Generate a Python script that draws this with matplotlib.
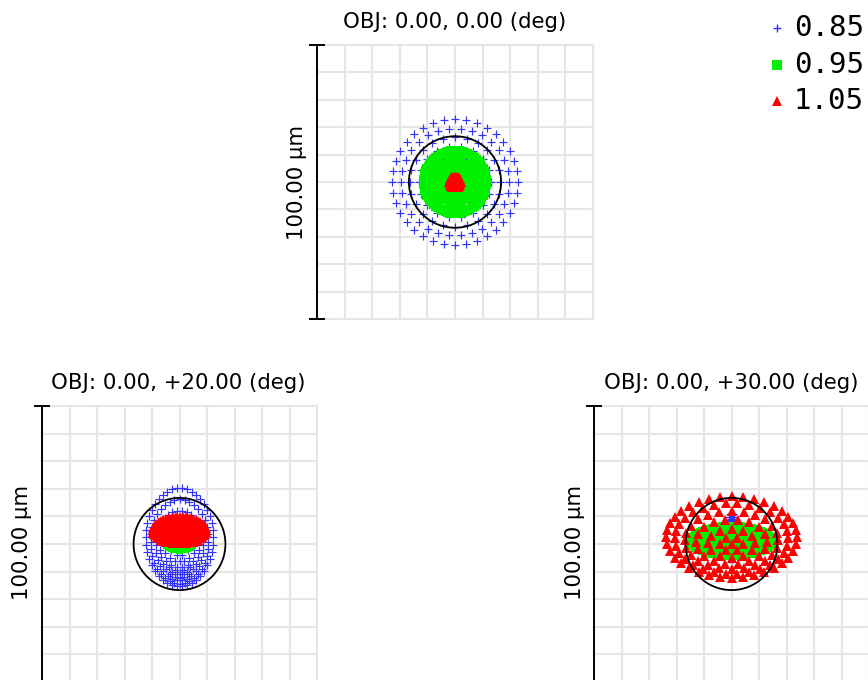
import numpy as np
import matplotlib
matplotlib.use("Agg")
import matplotlib.pyplot as plt
from matplotlib.patches import Circle

# ---------------------------------------------------------------- data (µm)
FIELD_TITLES = ["OBJ: 0.00, 0.00 (deg)",
                "OBJ: 0.00, +20.00 (deg)",
                "OBJ: 0.00, +30.00 (deg)"]
WAVELENGTHS = ["0.85", "0.95", "1.05"]
SCALE_LABEL = "100.00 µm"
BOX_HALF_UM = 50.0
GRID_STEP_UM = 10.0
AIRY_RADIUS_UM = 16.7

# Ray rings of the hexapolar pupil sampling: ring semi-axis in x, in y,
# and the ring centre height, all at the image plane.
F0_085_AX = [6.5, 9.8, 13.1, 16.4, 19.6, 22.9]
F0_085_AY = [6.5, 9.8, 13.1, 16.4, 19.6, 22.9]
F0_085_CY = [0.0, 0.0, 0.0, 0.0, 0.0, 0.0]

F0_095_AX = [0.95, 1.9, 2.85, 3.8, 4.75, 5.7, 6.65, 7.6, 8.55, 9.9, 10.8, 11.7, 12.5]
F0_095_AY = [0.95, 1.9, 2.85, 3.8, 4.75, 5.7, 6.65, 7.6, 8.55, 9.9, 10.8, 11.7, 12.5]
F0_095_CY = [0.0] * 13

F0_105_AX = [0.5, 1.0, 1.5, 2.0]
F0_105_AY = [0.5, 1.0, 1.5, 2.0]
F0_105_CY = [0.0, 0.0, 0.0, 0.0]

F20_085_AX = [1.7, 3.5, 5.2, 7.0, 8.7, 10.5, 12.2]
F20_085_AY = [2.5, 5.1, 7.6, 10.2, 12.7, 15.3, 17.8]
F20_085_CY = [-6.3, -4.9, -3.4, -2.0, -0.5, 0.9, 2.4]

F20_095_AX = [1.0, 2.0, 3.0, 4.0, 5.0, 6.0, 7.0]
F20_095_AY = [0.75, 1.5, 2.3, 3.0, 3.8, 4.5, 5.3]
F20_095_CY = [2.5, 2.5, 2.5, 2.5, 2.5, 2.5, 2.5]

F20_105_AX = [1.2, 2.4, 3.6, 4.8, 6.0, 7.2, 8.4, 9.6]
F20_105_AY = [0.6, 1.2, 1.8, 2.4, 3.0, 3.6, 4.2, 4.8]
F20_105_CY = [5.0, 5.0, 5.0, 5.0, 5.0, 5.0, 5.0, 5.0]

F30_085_AX = [0.4, 0.8, 1.2, 1.5]
F30_085_AY = [2.1, 4.2, 6.3, 8.3]
F30_085_CY = [2.7, 2.7, 2.7, 2.7]

F30_095_AX = [1.33, 2.67, 4.0, 5.33, 6.67, 8.0, 9.33, 10.67, 12.0, 13.33, 14.67, 16.0]
F30_095_AY = [0.52, 1.03, 1.55, 2.07, 2.58, 3.1, 3.62, 4.13, 4.65, 5.17, 5.68, 6.2]
F30_095_CY = [1.1] * 12

F30_105_AX = [4.2, 8.5, 13.0, 17.0, 20.7, 23.8]
F30_105_AY = [2.6, 5.3, 8.1, 10.6, 12.8, 14.8]
F30_105_CY = [0.0, 0.3, 0.8, 1.4, 2.0, 2.5]

FIELDS = [
    [(F0_085_AX, F0_085_AY, F0_085_CY), (F0_095_AX, F0_095_AY, F0_095_CY),
     (F0_105_AX, F0_105_AY, F0_105_CY)],
    [(F20_085_AX, F20_085_AY, F20_085_CY), (F20_095_AX, F20_095_AY, F20_095_CY),
     (F20_105_AX, F20_105_AY, F20_105_CY)],
    [(F30_085_AX, F30_085_AY, F30_085_CY), (F30_095_AX, F30_095_AY, F30_095_CY),
     (F30_105_AX, F30_105_AY, F30_105_CY)],
]

# ---------------------------------------------------------------- styles
W, H = 868, 680
BLUE, GREEN, RED = "#3333ff", "#00f000", "#ff0000"
GRID_COLOR = "#e6e6e6"
STYLES = [
    dict(marker="+", color=BLUE, markersize=6.3, markeredgewidth=0.85, linestyle="none"),
    dict(marker="s", color=GREEN, markersize=3.0, markeredgewidth=0, linestyle="none"),
    dict(marker="^", color=RED, markersize=7.3, markeredgewidth=0, linestyle="none"),
]
# panel boxes in pixels: left, top, right, bottom
PANELS = [(317, 45, 593, 319), (42, 406, 317, 682), (594, 406, 869, 682)]
TITLE_POS = [(455, 22), (178, 383), (731, 383)]
YLABEL_POS = [(297, 182), (22, 543), (575, 543)]

fig = plt.figure(figsize=(W / 100, H / 100), dpi=100)
fig.patch.set_facecolor("white")


def pixel_axes(left, top, right, bottom):
    return fig.add_axes([left / W, 1 - bottom / H, (right - left) / W, (bottom - top) / H])


def hexapolar(ax_list, ay_list, cy_list):
    xs, ys = [0.0], [cy_list[0]]
    for k, (a, b, c) in enumerate(zip(ax_list, ay_list, cy_list), start=1):
        n = 6 * k
        t = 2 * np.pi * np.arange(n) / n
        xs.extend(a * np.cos(t))
        ys.extend(c + b * np.sin(t))
    return np.array(xs), np.array(ys)


for box, rings in zip(PANELS, FIELDS):
    ax = pixel_axes(*box)
    ax.set_xlim(-BOX_HALF_UM, BOX_HALF_UM)
    ax.set_ylim(-BOX_HALF_UM, BOX_HALF_UM)
    ax.axis("off")
    for v in np.arange(-BOX_HALF_UM, BOX_HALF_UM + 0.1, GRID_STEP_UM):
        ax.axvline(v, color=GRID_COLOR, lw=1.5, zorder=0, clip_on=False)
        ax.axhline(v, color=GRID_COLOR, lw=1.5, zorder=0, clip_on=False)
    for z, ((rx, ry, cy), st) in enumerate(zip(rings, STYLES), start=1):
        x, y = hexapolar(rx, ry, cy)
        ax.plot(x, y, zorder=z, **st)
    ax.add_patch(Circle((0, 0), AIRY_RADIUS_UM, fill=False, ec="black", lw=1.3, zorder=5))
    # scale bar on the left edge
    ax.plot([-BOX_HALF_UM, -BOX_HALF_UM], [-BOX_HALF_UM, BOX_HALF_UM],
            color="black", lw=1.4, zorder=6, clip_on=False)
    for yy in (-BOX_HALF_UM, BOX_HALF_UM):
        ax.plot([-BOX_HALF_UM - 2.4, -BOX_HALF_UM + 2.4], [yy, yy],
                color="black", lw=1.4, zorder=6, clip_on=False)

# overlay in pixel coordinates for texts and the wavelength key
ov = fig.add_axes([0, 0, 1, 1], facecolor="none")
ov.set_xlim(0, W)
ov.set_ylim(H, 0)
ov.axis("off")
for title, (tx, ty) in zip(FIELD_TITLES, TITLE_POS):
    ov.text(tx, ty, title, ha="center", va="center", fontsize=15.3,
            family="DejaVu Sans", color="black")
for (lx, ly) in YLABEL_POS:
    ov.text(lx, ly, SCALE_LABEL, ha="center", va="center", rotation=90,
            fontsize=15.3, family="DejaVu Sans", color="black")

KEY_ROWS = [28, 65, 101]
KEY_SIZES = [6.0, 6.5, 6.5]
for wl, row, st, ms in zip(WAVELENGTHS, KEY_ROWS, STYLES, KEY_SIZES):
    kst = dict(st)
    kst["markersize"] = ms
    if kst["marker"] == "+":
        kst["markeredgewidth"] = 1.0
    ov.plot([777], [row], **kst)
    ov.text(794, row, wl, ha="left", va="center", fontsize=21,
            family="DejaVu Sans Mono", color="black")

fig.savefig("out.png", dpi=100, facecolor="white")
